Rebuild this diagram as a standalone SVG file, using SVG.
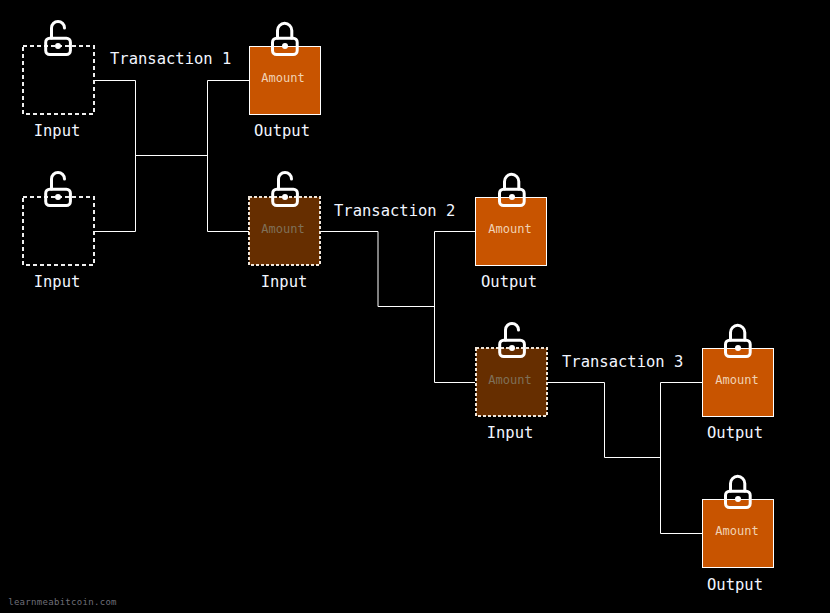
<svg xmlns="http://www.w3.org/2000/svg" width="830" height="613" viewBox="0 0 830 613">
<style>
text{font-family:"DejaVu Sans Mono","Liberation Mono",monospace;text-anchor:middle}
.lbl{font-size:15.500px;fill:#f2f6ff}
.tx{font-size:15.500px;fill:#f2f6ff;text-anchor:start}
.amt{font-size:12px;fill:#f0d2b4}
.amtd{font-size:12px;fill:#7f7058}
.out{fill:#c85400;stroke:#fff;stroke-width:1}
.spent{fill:#662e00;stroke:#f0e6da;stroke-width:2;stroke-dasharray:3 2}
.empty{fill:none;stroke:#eee;stroke-width:2;stroke-dasharray:4 3}
.conn{fill:none;stroke:#fff;stroke-width:1}
.lk{fill:none;stroke:#fff;stroke-width:3;stroke-linecap:round}
.dot{fill:#fff}
</style>
<defs>
<g id="open"><path class="lk" d="M-6.500 -8V-18A6.500 6.500 0 0 1 6.500 -18"/><rect class="lk" x="-12.300" y="-7.800" width="24.700" height="16.300" rx="4"/><circle class="dot" cx="0" cy="0" r="3"/></g>
<g id="closed"><path class="lk" d="M-7.500 -8V-15.500A7.150 7.150 0 0 1 6.800 -15.500V-8"/><rect class="lk" x="-12.500" y="-7.800" width="24.700" height="16.300" rx="4"/><circle class="dot" cx="0" cy="0" r="3"/></g>
</defs>
<rect width="830" height="613" fill="#000"/>
<g id="connectors">
<path class="conn" d="M94 80.500H135.500V231.500H94M135.500 155.500H207.500M249 80.500H207.500V231.500H249"/>
<path class="conn" d="M321 231.500H378V306.500H434.500M475 231.500H434.500V382.500H475"/>
<path class="conn" d="M548 382.500H604.500V457.500H660.500M702 382.500H660.500V533.500H702"/>
</g>
<g id="input-1"><rect class="empty" x="23" y="46" width="71" height="68"/><use href="#open" x="58" y="46"/><text class="lbl" x="57" y="136">Input</text></g>
<g id="input-2"><rect class="empty" x="23" y="197" width="71" height="68"/><use href="#open" x="58" y="197"/><text class="lbl" x="57" y="287">Input</text></g>
<g id="output-1"><rect class="out" x="249.500" y="46.500" width="71" height="68"/><use href="#closed" x="285" y="46"/><text class="amt" x="283" y="82">Amount</text><text class="lbl" x="282" y="136">Output</text></g>
<g id="input-3"><rect class="spent" x="249" y="197" width="71" height="68"/><use href="#open" x="285" y="197"/><text class="amtd" x="283" y="233">Amount</text><text class="lbl" x="284" y="287">Input</text></g>
<g id="output-2"><rect class="out" x="475.500" y="197.500" width="71" height="68"/><use href="#closed" x="512" y="197"/><text class="amt" x="510" y="233">Amount</text><text class="lbl" x="509" y="287">Output</text></g>
<g id="input-4"><rect class="spent" x="476" y="348" width="71" height="68"/><use href="#open" x="512" y="348"/><text class="amtd" x="510" y="384">Amount</text><text class="lbl" x="510" y="438">Input</text></g>
<g id="output-3"><rect class="out" x="702.500" y="348.500" width="71" height="68"/><use href="#closed" x="738" y="348"/><text class="amt" x="737" y="384">Amount</text><text class="lbl" x="735" y="438">Output</text></g>
<g id="output-4"><rect class="out" x="702.500" y="499.500" width="71" height="68"/><use href="#closed" x="738" y="499"/><text class="amt" x="737" y="535">Amount</text><text class="lbl" x="735" y="590">Output</text></g>
<g id="labels">
<text class="tx" x="110" y="64">Transaction 1</text>
<text class="tx" x="334" y="216">Transaction 2</text>
<text class="tx" x="562" y="367">Transaction 3</text>
<text x="62.500" y="605" style="font-size:9px;fill:#6f6f78;letter-spacing:0.300px">learnmeabitcoin.com</text>
</g>
</svg>
